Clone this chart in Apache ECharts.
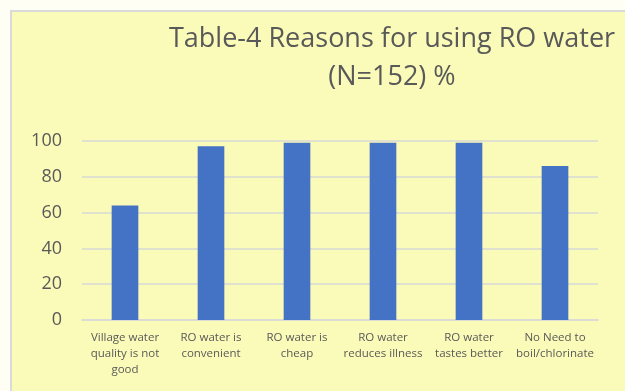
<!DOCTYPE html>
<html>
<head>
<meta charset="utf-8">
<script src="https://cdn.jsdelivr.net/npm/echarts@6/dist/echarts.min.js"></script>
<style>
html,body{margin:0;padding:0;background:#fefef4;}
#chart{width:625px;height:391px;}
</style>
</head>
<body>
<div id="chart"></div>
<script>
const categories = [
  "Village water\nquality is not\ngood",
  "RO water is\nconvenient",
  "RO water is\ncheap",
  "RO water\nreduces illness",
  "RO water\ntastes better",
  "No Need to\nboil/chlorinate"
];
const values = [64, 97, 99, 99, 99, 86];
const yTicks = [0, 20, 40, 60, 80, 100];

const chart = echarts.init(document.getElementById('chart'), null, {renderer: 'canvas'});
chart.setOption({
  backgroundColor: '#fefef4',
  animation: false,
  graphic: [{
    type: 'rect',
    z: -10,
    shape: {x: 11, y: 11, width: 640, height: 400},
    style: {fill: '#fbfbb9', stroke: '#d9d9d9', lineWidth: 2}
  }],
  title: {
    text: 'Table-4 Reasons for using RO water\n(N=152) %',
    left: 387,
    top: 15,
    textAlign: 'center',
    textStyle: {
      fontFamily: 'Open Sans',
      fontSize: 27,
      fontWeight: 'normal',
      color: '#595959',
      lineHeight: 38
    }
  },
  grid: {left: 82, right: 27, top: 141, bottom: 71, containLabel: false},
  xAxis: {
    type: 'category',
    data: categories,
    axisLine: {lineStyle: {color: '#d9d9d9', width: 1.5}},
    axisTick: {show: false},
    axisLabel: {
      color: '#595959',
      fontFamily: 'Open Sans',
      fontSize: 11.5,
      lineHeight: 16,
      margin: 10,
      interval: 0
    }
  },
  yAxis: {
    type: 'value',
    min: 0,
    max: 100,
    interval: 20,
    axisLine: {show: false},
    axisTick: {show: false},
    splitLine: {lineStyle: {color: '#d9d9d9', width: 1.5}},
    axisLabel: {
      color: '#595959',
      fontFamily: 'Open Sans',
      fontSize: 18,
      margin: 20,
      formatter: v => yTicks.includes(v) ? String(v) : ''
    }
  },
  series: [{
    type: 'bar',
    data: values,
    barWidth: '31%',
    itemStyle: {color: '#4472c4'}
  }]
});
</script>
</body>
</html>
